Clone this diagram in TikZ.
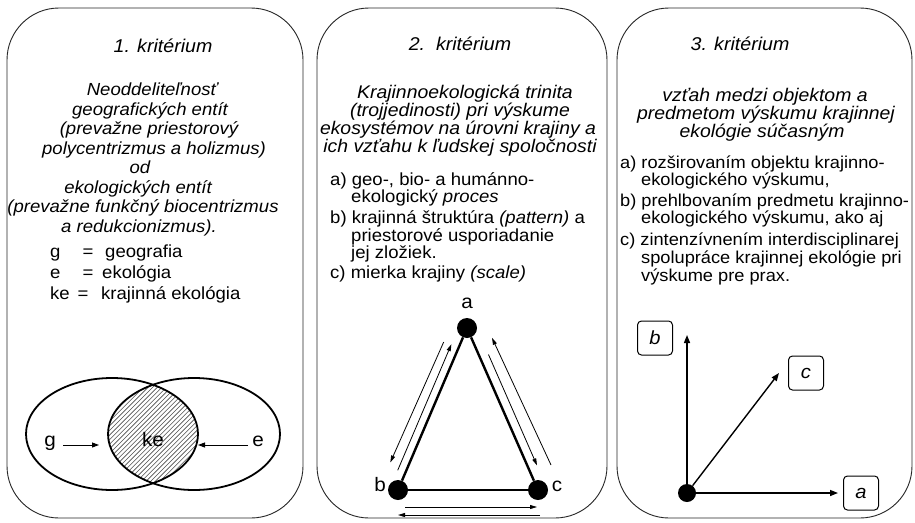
\documentclass[tikz,border=0pt]{standalone}
\usepackage{fontspec}
\setmainfont{Liberation Sans}[FakeStretch=1.06]
\usetikzlibrary{arrows.meta}
\begin{document}
\begin{tikzpicture}[x=1pt,y=-1pt,
  panel/.style={draw=black!85, line width=0.9pt, rounded corners=52pt},
  tit/.style={inner sep=0pt, anchor=mid, font=\fontsize{18.5}{20}\selectfont\itshape},
  bi/.style={inner sep=0pt, anchor=mid, font=\fontsize{18.3}{20}\selectfont\itshape},
  bia/.style={inner sep=0pt, anchor=mid, font=\fontsize{17.5}{19}\selectfont\itshape},
  li/.style={inner sep=0pt, anchor=mid west, font=\fontsize{17.5}{19}\selectfont},
  lj/.style={inner sep=0pt, anchor=mid west, font=\fontsize{17.2}{19}\selectfont},
  lc/.style={inner sep=0pt, anchor=mid, font=\fontsize{17.5}{19}\selectfont},
  lab/.style={inner sep=0pt, anchor=mid, font=\fontsize{19.5}{20}\selectfont},
  ell/.style={draw, line width=1.8pt},
  hatch/.style={draw=black!70, line width=0.6pt},
  sarr/.style={line width=0.9pt, -{Triangle[length=7pt,width=5pt]}},
  dot/.style={circle, fill=black, inner sep=0pt, minimum size=20pt},
  dot3/.style={circle, fill=black, inner sep=0pt, minimum size=18pt},
  edge/.style={line width=2.4pt},
  parr/.style={line width=0.8pt, -{Triangle[length=7pt,width=4pt]}},
  arr3/.style={line width=1.4pt, -{Triangle[length=8pt,width=6pt]}},
  lbox/.style={draw, line width=1pt, rounded corners=4pt, minimum width=35pt, minimum height=34pt, inner sep=0pt, font=\fontsize{19}{20}\selectfont\itshape}
]
\useasboundingbox (0,0) rectangle (915,522);
\fill[white] (0,0) rectangle (915,522);

% panels
\draw[panel] (7,8) rectangle (303,518);
\draw[panel] (317,8) rectangle (607,518);
\draw[panel] (617,8) rectangle (912,518);

% ---------- panel 1 ----------
\node[tit] (t1) at (163,50) {1. kritérium};
\node[bia] (p1a) at (152,93) {Neoddeliteľnosť};
\node[bia] (p1b) at (150,112.5) {geografických entít};
\node[bia] (p1c) at (149,132) {(prevažne priestorový};
\node[bia] (p1d) at (154,151.5) {polycentrizmus a holizmus)};
\node[bia] (p1e) at (140,171) {od};
\node[bia] (p1f) at (138,190.5) {ekologických entít};
\node[bia] (p1g) at (143,210) {(prevažne funkčný biocentrizmus};
\node[bia] (p1h) at (139,229.5) {a redukcionizmus).};

\node[li] (lg) at (50,255) {g};
\node[lc] (lgq) at (88,255) {=};
\node[li] (lgt) at (105,255) {geografia};
\node[li] (le) at (50,276) {e};
\node[lc] (leq) at (88,276) {=};
\node[li] (let) at (102,276) {ekológia};
\node[li] (lk) at (50,297) {ke};
\node[lc] (lkq) at (83,297) {=};
\node[li] (lkt) at (101,297) {krajinná ekológia};

% Venn
\begin{scope}
  \clip (112,434) ellipse [x radius=86pt, y radius=56pt];
  \clip (194,434) ellipse [x radius=86pt, y radius=56pt];
  \foreach \k in {-40,...,40} {
    \draw[hatch] ({152+4.6*\k-80},514) -- ++(160,-160);
  }
\end{scope}
\draw[ell] (112,434) ellipse [x radius=86pt, y radius=56pt];
\draw[ell] (194,434) ellipse [x radius=86pt, y radius=56pt];
\node[lab] (vg) at (50,444) {g};
\node[lab] (vke) at (153,444) {ke};
\node[lab] (ve) at (258,444) {e};
\coordinate (gs) at (63,445);
\coordinate (gt) at (99,445);
\coordinate (es) at (248,445);
\coordinate (et) at (198,445);
\draw[sarr] (gs) -- (gt);
\draw[sarr] (es) -- (et);

% ---------- panel 2 ----------
\node[tit] (t2) at (460,48) {2.\ \ kritérium};
\node[bi] (p2a) at (465,96) {Krajinnoekologická trinita};
\node[bi] (p2b) at (460,114) {(trojjedinosti) pri výskume};
\node[bi] (p2c) at (458,132) {ekosystémov na úrovni krajiny a};
\node[bi] (p2d) at (460,150) {ich vzťahu k ľudskej spoločnosti};
\node[li] (l2a) at (330,182.5) {a) geo-, bio- a humánno-};
\node[li] (l2a2) at (351,199.5) {ekologický \textit{proces}};
\node[li] (l2b) at (330,221) {b) krajinná štruktúra \textit{(pattern)} a};
\node[li] (l2b2) at (351,238.5) {priestorové usporiadanie};
\node[li] (l2b3) at (351,256) {jej zložiek.};
\node[li] (l2c) at (330,275.5) {c) mierka krajiny \textit{(scale)}};

\node[dot] (A) at (467,328) {};
\node[dot] (B) at (398,490) {};
\node[dot] (C) at (538,490) {};
\node[lab] (la) at (467,306) {a};
\node[lab] (lb) at (380,489) {b};
\node[lab] (lc) at (557,489) {c};
\draw[edge] (A) -- (B);
\draw[edge] (A) -- (C);
\draw[edge] (B) -- (C);

\coordinate (l1s) at (397.7,470.3);
\coordinate (l1e) at (451.4,344.2);
\coordinate (l2s) at (443.7,342.0);
\coordinate (l2e) at (390.3,462.5);
\coordinate (r1s) at (488.5,354.6);
\coordinate (r1e) at (537.0,465.4);
\coordinate (r2s) at (551.0,465.0);
\coordinate (r2e) at (492.0,337.8);
\coordinate (b1s) at (405,507);
\coordinate (b1e) at (537,507);
\coordinate (b2s) at (540,515);
\coordinate (b2e) at (398,515);
\draw[parr] (l1s) -- (l1e);
\draw[parr] (l2s) -- (l2e);
\draw[parr] (r1s) -- (r1e);
\draw[parr] (r2s) -- (r2e);
\draw[parr] (b1s) -- (b1e);
\draw[parr] (b2s) -- (b2e);

% ---------- panel 3 ----------
\node[tit] (t3) at (740,48) {3. kritérium};
\node[bi] (p3a) at (765,99) {vzťah medzi objektom a};
\node[bi] (p3b) at (766,117) {predmetom výskumu krajinnej};
\node[bi] (p3c) at (762,135) {ekológie súčasným};
\node[lj] (l3a) at (620,165.5) {a) rozširovaním objektu krajinno-};
\node[lj] (l3a2) at (641,182.5) {ekologického výskumu,};
\node[lj] (l3b) at (620,204) {b) prehlbovaním predmetu krajinno-};
\node[lj] (l3b2) at (641,221) {ekologického výskumu, ako aj};
\node[lj] (l3c) at (620,243) {c) zintenzívnením interdisciplinarej};
\node[lj] (l3c2) at (641,261) {spolupráce krajinnej ekológie pri};
\node[lj] (l3c3) at (641,279) {výskume pre prax.};

\node[dot3] (O) at (687,493) {};
\node[lbox] (bb) at (655,338) {b};
\node[lbox] (bc) at (806,373) {c};
\node[lbox] (ba) at (861,493) {a};
\coordinate (tb) at (687,335);
\coordinate (tc) at (779,373);
\coordinate (ta) at (838,493);
\draw[arr3] (O) -- (tb);
\draw[arr3] (O) -- (tc);
\draw[arr3] (O) -- (ta);
\end{tikzpicture}
\end{document}
